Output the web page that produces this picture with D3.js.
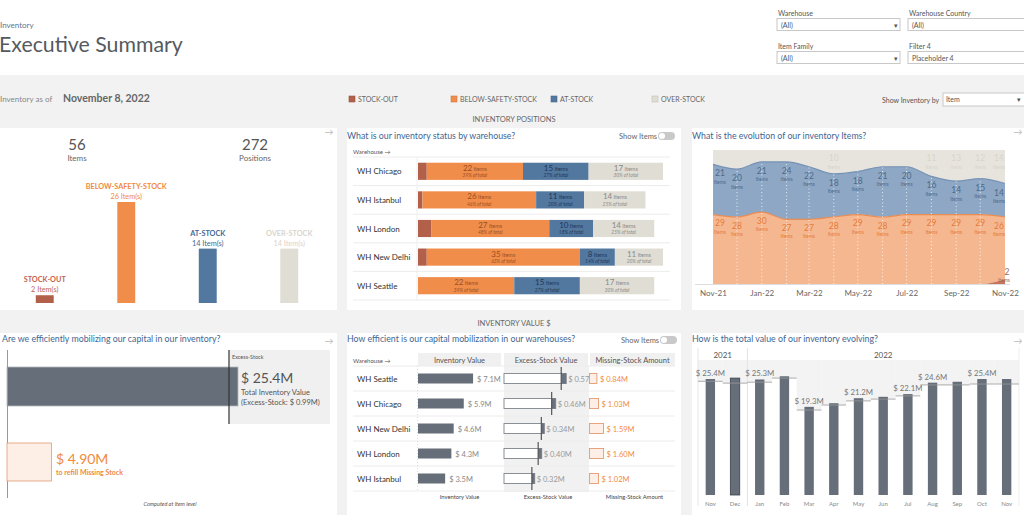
<!DOCTYPE html>
<html><head><meta charset="utf-8">
<script src="https://cdn.jsdelivr.net/npm/d3@7"></script>
<style>body{margin:0;background:#fff;overflow:hidden}svg{display:block}</style>
</head><body><svg id="c" width="1024" height="515"></svg>
<script>
// ---------- DATA ----------
const statusCats = ["STOCK-OUT","BELOW-SAFETY-STOCK","AT-STOCK","OVER-STOCK"];
const statusColors = ["#b3604a","#f08d4b","#52789f","#e0ddd4"];
const statusLabelColors = ["#bf6450","#f08a3e","#3f6a98","#d9d5cc"];
const statusItems = [2,26,14,14];
const kpiNumbers = ["56","272"];
const kpiLabels = ["Items","Positions"];

const warehouses = ["WH Chicago","WH Istanbul","WH London","WH New Delhi","WH Seattle"];
const whStockOut = [2,1,3,2,0];
const whBelow = [22,26,27,35,22];
const whAt = [15,11,10,8,15];
const whOver = [17,14,14,11,17];
const whPct = [[39,27,30],[46,20,25],[48,18,25],[63,14,20],[39,27,30]];

const evoMonths = ["2021-11","2021-12","2022-01","2022-02","2022-03","2022-04","2022-05","2022-06","2022-07","2022-08","2022-09","2022-10","2022-11"];
const evoStockOut = [0,0,0,0,0,0,0,0,0,0,0,0,2];
const evoBelow = [29,28,30,27,27,28,29,28,29,29,29,29,26];
const evoAt = [21,20,21,24,22,18,18,21,20,16,14,15,14];
const evoOver = [6,8,5,5,7,10,9,7,7,11,13,12,14];
const evoOverShown = [false,false,false,false,false,true,false,false,false,true,true,true,true];

const totalValue = 25.4, excessValue = 0.99, missingValue = 4.90;

const whValueOrder = ["WH Seattle","WH Chicago","WH New Delhi","WH London","WH Istanbul"];
const whInvValue = [7.1,5.9,4.6,4.3,3.5];
const whExcess = [0.57,0.46,0.34,0.40,0.32];
const whMissing = [0.84,1.03,1.59,1.60,1.02];
const valueColumns = ["Inventory Value","Excess-Stock Value","Missing-Stock Amount"];

const valMonths = ["Nov","Dec","Jan","Feb","Mar","Apr","May","Jun","Jul","Aug","Sep","Oct","Nov"];
const valYears = ["2021","2021","2022","2022","2022","2022","2022","2022","2022","2022","2022","2022","2022"];
const valTotal = [25.4,25.6,25.3,26.0,19.3,20.1,21.2,21.5,22.1,24.6,24.8,25.4,25.4];
const valRef = [24.9,24.5,24.7,25.6,18.6,19.7,20.6,21.0,21.7,24.1,24.1,24.3,24.3];
const valShown = [true,false,true,false,true,false,true,false,true,true,false,true,false];

const filterLabels = ["Warehouse","Warehouse Country","Item Family","Filter 4"];
const filterValues = ["(All)","(All)","(All)","Placeholder 4"];

// ---------- HELPERS ----------
const F = "Lato, 'Open Sans', sans-serif";
const svg = d3.select("#c");
function txt(x,y,s,o={}){
  const t = svg.append("text").attr("x",x).attr("y",y).text(s)
    .style("font-family",F).style("font-size",(o.size||8)+"px").attr("fill",o.fill||"#555");
  if(o.anchor) t.attr("text-anchor",o.anchor);
  if(o.weight) t.style("font-weight",o.weight);
  if(o.italic) t.style("font-style","italic");
  return t;
}
const TITLE = "#3f6591";
const TS = 8.8;

// ---------- BACKGROUND ----------
svg.append("rect").attr("x",0).attr("y",0).attr("width",1024).attr("height",75).attr("fill","#fff");
svg.append("rect").attr("x",0).attr("y",75).attr("width",1024).attr("height",440).attr("fill","#f2f2f2");
[[0,128,337,182],[347,128,334,182],[692,128,332,182],[0,333,337,182],[347,333,334,182],[692,333,332,182]]
  .forEach(p=>svg.append("rect").attr("x",p[0]).attr("y",p[1]).attr("width",p[2]).attr("height",p[3]).attr("fill","#fff"));

// ---------- HEADER ----------
txt(0,28,"Inventory",{size:8,fill:"#5f7590"});
txt(-1,52,"Executive Summary",{size:21.3,fill:"#555a60"});
filterLabels.forEach((l,i)=>{
  const x = i%2===0 ? 777 : 908, y = i<2 ? 16 : 49;
  txt(x+1,y,l,{size:7,fill:"#555"});
  svg.append("rect").attr("x",x).attr("y",y+2.5).attr("width",123).attr("height",12)
    .attr("fill","#fff").attr("stroke","#c8c8c8");
  txt(x+4,y+11.5,filterValues[i],{size:7,fill:"#555"});
  if(i%2===0) txt(x+117,y+11.5,"▾",{size:7,fill:"#555"});
});

txt(0,102,"Inventory as of",{size:8,fill:"#888"});
txt(63,102,"November 8, 2022",{size:10.5,fill:"#666",weight:"bold"});
const legX = [349,451,551,652];
statusCats.forEach((c,i)=>{
  svg.append("rect").attr("x",legX[i]).attr("y",96).attr("width",6).attr("height",6)
    .attr("fill",statusColors[i]).attr("stroke",d3.color(statusColors[i]).darker(0.4)).attr("stroke-width",0.6);
  txt(legX[i]+9,102,c,{size:7,fill:"#666"});
});
txt(882,103,"Show Inventory by",{size:7,fill:"#555"});
svg.append("rect").attr("x",943).attr("y",93).attr("width",84).attr("height",13).attr("fill","#fff").attr("stroke","#c8c8c8");
txt(946,102,"Item",{size:7,fill:"#555"});
txt(1017,102,"▾",{size:7,fill:"#555"});
txt(514,122,"INVENTORY POSITIONS",{size:7.5,fill:"#666",anchor:"middle"});
txt(514,326,"INVENTORY VALUE $",{size:7.5,fill:"#666",anchor:"middle"});

// panel arrows
[[329,135],[1018,135],[329,344],[1018,344]].forEach(p=>txt(p[0],p[1],"→",{size:9,fill:"#bbb",anchor:"middle"}));

function toggle(x,y){
  svg.append("rect").attr("x",x).attr("y",y).attr("width",17).attr("height",8).attr("rx",4).attr("fill","#c9c9c9");
  svg.append("circle").attr("cx",x+4).attr("cy",y+4).attr("r",3).attr("fill","#fff");
}

// ---------- PANEL 1 ----------
[77,255].forEach((cx,i)=>{
  txt(cx,150,kpiNumbers[i],{size:15,fill:"#555",anchor:"middle"});
  txt(cx,161,kpiLabels[i],{size:8,fill:"#666",anchor:"middle"});
});
const p1x = d3.scaleBand().domain(statusCats).range([4,330]).paddingInner(0.78).paddingOuter(0.39);
const p1y = d3.scaleLinear().domain([0,26]).range([303,202]);
statusCats.forEach((c,i)=>{
  const x = p1x(c), w = p1x.bandwidth(), top = p1y(statusItems[i]);
  svg.append("rect").attr("x",x).attr("y",top).attr("width",w).attr("height",p1y(0)-top).attr("fill",statusColors[i]);
  txt(x+w/2,top-13,c,{size:7.3,fill:statusLabelColors[i],anchor:"middle",weight:"bold"});
  txt(x+w/2,top-3,statusItems[i]+" Item(s)",{size:7.3,fill:statusLabelColors[i],anchor:"middle"});
});

// ---------- PANEL 2 ----------
txt(347,139,"What is our inventory status by warehouse?",{size:TS,fill:TITLE});
txt(619,139,"Show Items",{size:7.5,fill:"#666"});
toggle(658,132);
txt(353,154,"Warehouse →",{size:6,fill:"#555"});
const p2x = d3.scaleLinear().domain([0,56]).range([418,663]);
const p2y = d3.scaleBand().domain(warehouses).range([157,300]).paddingInner(0.4).paddingOuter(0.2);
const st2 = p2y.step();
for(let i=0;i<=5;i++) svg.append("line").attr("x1",353).attr("x2",670).attr("y1",157+i*st2).attr("y2",157+i*st2).attr("stroke","#ececec");
svg.append("line").attr("x1",417).attr("x2",417).attr("y1",157).attr("y2",300).attr("stroke","#eee");
const segText = ["#9a4f22","#1f3658","#8a8a8a"];
warehouses.forEach((w,i)=>{
  const yb = p2y(w), h = p2y.bandwidth();
  txt(357,yb+h/2+3,w,{size:8,fill:"#333"});
  const vals=[whStockOut[i],whBelow[i],whAt[i],whOver[i]];
  let cum=0;
  vals.forEach((v,k)=>{
    const x0=p2x(cum), x1=p2x(cum+v); cum+=v;
    if(v===0) return;
    svg.append("rect").attr("x",x0).attr("y",yb).attr("width",x1-x0).attr("height",h).attr("fill",statusColors[k]);
    if(k>0){
      const cx=(x0+x1)/2;
      const t = txt(cx,yb+8,"",{size:8,fill:segText[k-1],anchor:"middle"});
      t.append("tspan").text(v);
      t.append("tspan").text("  Items").style("font-size","5.5px");
      txt(cx,yb+14.5,whPct[i][k-1]+"% of total",{size:4.8,fill:segText[k-1],anchor:"middle",italic:true});
    }
  });
});

// ---------- PANEL 3 ----------
txt(692,139,"What is the evolution of our inventory Items?",{size:TS,fill:TITLE});
const parseM = d3.timeParse("%Y-%m");
const evo = evoMonths.map((m,i)=>({date:parseM(m),so:evoStockOut[i],below:evoBelow[i],at:evoAt[i],over:evoOver[i]}));
const p3x = d3.scaleTime().domain(d3.extent(evo,d=>d.date)).range([713,1005]);
const p3y = d3.scaleLinear().domain([0,56]).range([284,150]);
const series = d3.stack().keys(["so","below","at","over"])(evo);
const fills = ["#c8735c","#f5b78f","#8ea7c4","#e7e4dd"];
const area = d3.area().x(d=>p3x(d.data.date)).y0(d=>p3y(d[0])).y1(d=>p3y(d[1])).curve(d3.curveMonotoneX);
const line = d3.line().x(d=>p3x(d.data.date)).y(d=>p3y(d[1])).curve(d3.curveMonotoneX);
series.slice().reverse().forEach(s=>{
  const k = series.indexOf(s);
  svg.append("path").attr("d",area(s)).attr("fill",fills[k]);
});
svg.append("path").attr("d",line(series[1])).attr("fill","none").attr("stroke","#ea8d55").attr("stroke-width",1.2);
svg.append("path").attr("d",line(series[2])).attr("fill","none").attr("stroke","#7492b6").attr("stroke-width",1.2);
evo.forEach((d,i)=>{
  const x = p3x(d.date);
  if(i>0 && i<evo.length-1)
    svg.append("line").attr("x1",x).attr("x2",x).attr("y1",284).attr("y2",p3y(series[2][i][1]))
      .attr("stroke","#fff").attr("stroke-dasharray","1,2.5").attr("opacity",0.8);
});
svg.append("line").attr("x1",695).attr("x2",1010).attr("y1",284.5).attr("y2",284.5).attr("stroke","#ddd");
evo.forEach((d,i)=>{
  let x = p3x(d.date);
  if(i===0) x+=7; if(i===evo.length-1) x-=6;
  const yb = p3y(series[1][i][1]), ya = p3y(series[2][i][1]);
  txt(x,ya+12,d.at,{size:8.5,fill:"#4d6a8c",anchor:"middle"});
  txt(x,ya+19.5,"Items",{size:5,fill:"#4d6a8c",anchor:"middle"});
  txt(x,yb+11.5,d.below,{size:8.5,fill:"#e57c3c",anchor:"middle"});
  txt(x,yb+19,"Items",{size:5,fill:"#e57c3c",anchor:"middle"});
  if(evoOverShown[i]){
    txt(x,161,d.over,{size:8.5,fill:"#d8d4cb",anchor:"middle"});
    txt(x,168.5,"Items",{size:5,fill:"#d8d4cb",anchor:"middle"});
  }
  if(d.so>0){
    txt(x+8,275,d.so,{size:8.5,fill:"#9b6a5a",anchor:"middle"});
    txt(x+5,282,"Items",{size:5,fill:"#9b6a5a",anchor:"middle"});
  }
});
const ax3 = svg.append("g").attr("transform","translate(0,284)")
  .call(d3.axisBottom(p3x).ticks(d3.timeMonth.every(2)).tickFormat(d3.timeFormat("%b-%y")).tickSize(0).tickPadding(6));
ax3.select(".domain").remove();
ax3.selectAll("text").style("font-family",F).style("font-size","8px").attr("fill","#666");

// ---------- PANEL 4 ----------
txt(2,342,"Are we efficiently mobilizing our capital in our inventory?",{size:TS,fill:TITLE});
const p4x = d3.scaleLinear().domain([0,totalValue]).range([7,238]);
svg.append("rect").attr("x",p4x(totalValue-excessValue)).attr("y",350).attr("width",330-p4x(totalValue-excessValue)).attr("height",74).attr("fill","#f0f0f0");
svg.append("rect").attr("x",p4x(0)).attr("y",367).attr("width",p4x(totalValue)-p4x(0)).attr("height",39)
  .attr("fill","#666e79").attr("stroke","#b5b8bd").attr("stroke-width",0.8);
svg.append("line").attr("x1",p4x(totalValue-excessValue)).attr("x2",p4x(totalValue-excessValue)).attr("y1",350).attr("y2",424).attr("stroke","#333").attr("stroke-width",1.2);
svg.append("line").attr("x1",7.5).attr("x2",7.5).attr("y1",350).attr("y2",498).attr("stroke","#999");
txt(232,359,"Excess-Stock",{size:5.5,fill:"#555"});
txt(241,383,"$ "+totalValue.toFixed(1)+"M",{size:14,fill:"#555"});
txt(241,395,"Total Inventory Value",{size:7.5,fill:"#555"});
txt(241,405,"(Excess-Stock: $ "+excessValue.toFixed(2)+"M)",{size:7.5,fill:"#555"});
svg.append("rect").attr("x",p4x(0)).attr("y",443).attr("width",p4x(missingValue)-p4x(0)).attr("height",38)
  .attr("fill","#fdefe6").attr("stroke","#e49a72").attr("stroke-width",0.8);
txt(56,464,"$ "+missingValue.toFixed(2)+"M",{size:14,fill:"#f08a3e"});
txt(56,475,"to refill Missing Stock",{size:7,fill:"#f08a3e",weight:"bold"});
txt(170,506,"Computed at Item level",{size:5.5,fill:"#555",anchor:"middle",italic:true});

// ---------- PANEL 5 ----------
txt(347,342,"How efficient is our capital mobilization in our warehouses?",{size:TS,fill:TITLE});
txt(621,343,"Show Items",{size:7.5,fill:"#666"});
toggle(660,336);
txt(353,363,"Warehouse →",{size:6,fill:"#555"});
const colX = [[418,501],[504,588],[590,675]];
svg.append("rect").attr("x",504).attr("y",366).attr("width",85).attr("height",126).attr("fill","#f1f1f1");
valueColumns.forEach((c,i)=>{
  svg.append("rect").attr("x",colX[i][0]).attr("y",353).attr("width",colX[i][1]-colX[i][0]).attr("height",13).attr("fill","#f0f0f0");
  txt((colX[i][0]+colX[i][1])/2,362.5,c,{size:7.5,fill:"#555",anchor:"middle"});
  txt((colX[i][0]+colX[i][1])/2+[0,2,2][i],499,c,{size:5.8,fill:"#444",anchor:"middle"});
});
const p5y = d3.scaleBand().domain(whValueOrder).range([366,491]).paddingInner(0.6).paddingOuter(0.3);
const st5 = p5y.step();
for(let i=0;i<=5;i++) svg.append("line").attr("x1",353).attr("x2",675).attr("y1",366+i*st5).attr("y2",366+i*st5).attr("stroke","#ececec");
svg.append("line").attr("x1",417.5).attr("x2",417.5).attr("y1",366).attr("y2",491).attr("stroke","#ddd").attr("stroke-dasharray","1,2");
const p5inv = d3.scaleLinear().domain([0,10.7]).range([418,501]);
const p5ex = d3.scaleLinear().domain([0,9.7]).range([504,589]);
const p5mi = d3.scaleLinear().domain([0,9.7]).range([589.5,675]);
whValueOrder.forEach((w,i)=>{
  const yb = p5y(w), h = p5y.bandwidth(), rowTop = 366+i*st5;
  txt(357,yb+h/2+3,w,{size:8,fill:"#333"});
  svg.append("rect").attr("x",p5inv(0)).attr("y",yb).attr("width",p5inv(whInvValue[i])-p5inv(0)).attr("height",h).attr("fill","#666e79");
  txt(p5inv(whInvValue[i])+4,yb+h/2+3,"$ "+whInvValue[i].toFixed(1)+"M",{size:7.5,fill:"#888"});
  const xe = p5ex(whInvValue[i]), xr = p5ex(whInvValue[i]-whExcess[i]);
  svg.append("rect").attr("x",p5ex(0)).attr("y",yb).attr("width",xe-p5ex(0)).attr("height",h).attr("fill","#fff").attr("stroke","#8a8f96").attr("stroke-width",1);
  svg.append("rect").attr("x",xr).attr("y",yb).attr("width",xe-xr).attr("height",h).attr("fill","#6b7380");
  svg.append("line").attr("x1",xr).attr("x2",xr).attr("y1",rowTop+1).attr("y2",rowTop+st5-1).attr("stroke","#555").attr("stroke-width",1.2);
  txt(xe+2,yb+h/2+3,"$ "+whExcess[i].toFixed(2)+"M",{size:7.5,fill:"#999"});
  const xm = p5mi(whMissing[i]);
  svg.append("rect").attr("x",p5mi(0)).attr("y",yb).attr("width",xm-p5mi(0)).attr("height",h).attr("fill","#fdefe6").attr("stroke","#e49a72").attr("stroke-width",0.9);
  txt(xm+3,yb+h/2+3,"$ "+whMissing[i].toFixed(2)+"M",{size:7.5,fill:"#f08a3e"});
});

// ---------- PANEL 6 ----------
txt(692,342,"How is the total value of our inventory evolving?",{size:TS,fill:TITLE});
const idx = d3.range(valMonths.length);
const p6x = d3.scaleBand().domain(idx).range([698,1019]).paddingInner(0.62).paddingOuter(0.31);
const p6y = d3.scaleLinear().domain([0,25.4]).range([495,379]);
const st6 = p6x.step();
idx.forEach(i=>{
  const cx0 = 698 + i*st6;
  svg.append("rect").attr("x",cx0).attr("y",360).attr("width",st6).attr("height",p6y(valRef[i])-360).attr("fill","#f3f3f3");
});
svg.append("line").attr("x1",698).attr("x2",698).attr("y1",348).attr("y2",506).attr("stroke","#e6e6e6");
svg.append("line").attr("x1",698+2*st6).attr("x2",698+2*st6).attr("y1",348).attr("y2",506).attr("stroke","#e3e3e3");
svg.append("line").attr("x1",1019).attr("x2",1019).attr("y1",348).attr("y2",506).attr("stroke","#eee");
const yrs = d3.groups(idx,i=>valYears[i]);
yrs.forEach(([y,arr])=>{
  const x0 = 698+arr[0]*st6, x1 = 698+(arr[arr.length-1]+1)*st6;
  txt((x0+x1)/2,358,y,{size:8,fill:"#555",anchor:"middle"});
});
idx.forEach(i=>{
  const cx0 = 698 + i*st6, x = p6x(i), w = p6x.bandwidth(), top = p6y(valTotal[i]);
  svg.append("rect").attr("x",x).attr("y",top).attr("width",w).attr("height",495-top).attr("fill","#666e79")
    .attr("stroke",i===1?"#3c4048":"none").attr("stroke-width",0.8);
  svg.append("line").attr("x1",cx0).attr("x2",cx0+st6).attr("y1",p6y(valRef[i])).attr("y2",p6y(valRef[i])).attr("stroke","#999").attr("stroke-width",0.8);
  if(valShown[i]) txt(x+w/2,top-3,"$ "+valTotal[i].toFixed(1)+"M",{size:7.8,fill:"#777",anchor:"middle"});
  txt(x+w/2,506,valMonths[i],{size:6,fill:"#888",anchor:"middle"});
});
</script></body></html>
